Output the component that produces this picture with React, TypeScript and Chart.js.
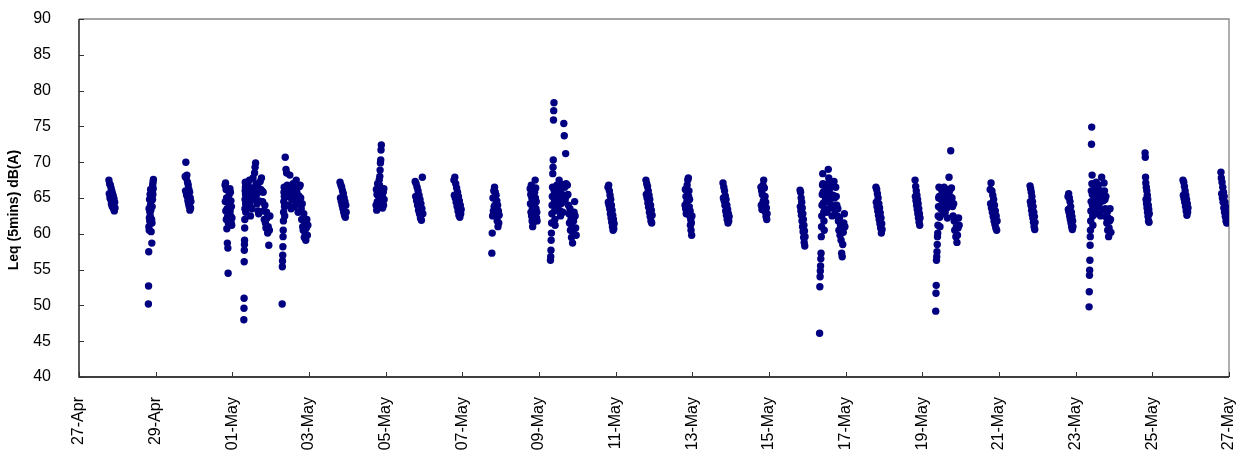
import React, { useEffect, useRef } from "react";
import { Chart, registerables } from "chart.js";

Chart.register(...registerables);

// x axis: days since 27-Apr 00:00; one label every 2 days
const tickLabels = [
  "27-Apr", "29-Apr", "01-May", "03-May", "05-May", "07-May", "09-May", "11-May",
  "13-May", "15-May", "17-May", "19-May", "21-May", "23-May", "25-May", "27-May",
];
const xStepDays = 2;
const yMin = 40;
const yMax = 90;
const yStep = 5;
const yTitle = "Leq (5mins) dB(A)";

// Leq readings (dB(A)) in time order, per measurement period
const leqApr27 = [67.5, 65.6, 67.0, 65.0, 66.8, 64.8, 66.4, 64.2, 66.0, 63.8, 65.6, 64.5, 65.3, 63.5, 64.9, 63.2, 64.4, 63.6];
const leqApr28 = [50.2, 52.7, 57.5, 61.0, 63.5, 60.5, 62.2, 64.8, 61.8, 63.0, 65.5, 62.5, 64.0, 66.2, 63.3, 65.2, 60.3, 64.6, 66.0, 62.0, 58.7, 61.5, 63.8, 65.8, 64.8, 66.8, 65.5, 67.2, 66.3, 67.6];
const leqApr29 = [68.0, 66.0, 70.0, 67.8, 65.5, 68.2, 65.2, 67.2, 64.6, 66.8, 64.2, 66.2, 63.8, 65.8, 63.3, 65.0, 63.6, 64.5];
const leqApr30 = [66.8, 64.5, 67.1, 63.2, 66.2, 62.0, 65.0, 60.7, 63.5, 58.7, 62.4, 58.0, 54.5, 61.5, 64.8, 62.8, 65.5, 61.8, 64.0, 66.3, 63.2, 65.8, 62.5, 64.6, 61.5, 63.8, 61.2, 62.2];
const leqMay01a = [48.0, 49.6, 51.0, 56.1, 57.7, 58.5, 59.1, 60.8, 62.0, 63.5, 64.8, 66.0, 67.2, 66.5, 65.5, 64.2, 63.0, 65.8, 67.0, 66.2];
const leqMay01b = [64.5, 65.8, 66.9, 63.8, 65.2, 67.5, 64.0, 62.5, 65.0, 66.4, 63.5, 64.8, 67.8, 66.0, 65.3, 68.5, 69.3, 69.9, 67.0, 65.5, 64.2, 66.5, 63.2, 62.8, 64.6, 65.9, 67.3, 66.2];
const leqMay01c = [67.8, 66.0, 64.5, 65.8, 63.2, 62.0, 64.0, 61.5, 60.8, 63.0, 62.2, 60.1, 61.0, 58.4, 60.5, 62.5];
const leqMay02a = [50.2, 55.4, 56.2, 57.0, 58.2, 59.6, 60.5, 61.8, 63.0, 64.5, 65.8, 66.5, 65.2, 63.8, 62.5, 64.0, 65.5, 70.7];
const leqMay02b = [69.0, 68.5, 66.8, 65.2, 64.0, 66.0, 68.2, 65.5, 63.5, 64.8, 66.5, 67.0, 65.0, 63.8, 64.6, 66.2, 67.5, 65.8, 64.2, 63.0, 65.3, 66.6];
const leqMay02c = [66.8, 65.0, 63.5, 62.0, 64.2, 61.0, 60.5, 62.8, 59.5, 61.5, 60.0, 59.1, 60.8, 62.0, 59.8, 61.2];
const leqMay03 = [67.2, 65.0, 66.8, 64.5, 66.5, 64.0, 66.0, 63.5, 65.6, 63.0, 65.0, 62.6, 64.5, 62.3, 64.0, 63.0];
const leqMay04 = [64.0, 66.2, 63.3, 65.5, 64.5, 67.0, 65.8, 63.8, 66.5, 65.2, 67.5, 66.8, 68.0, 68.9, 69.9, 70.3, 71.7, 72.4, 66.0, 64.2, 65.4, 63.6, 64.6, 65.8, 64.0, 66.3, 64.8];
const leqMay05 = [67.3, 65.2, 67.0, 64.6, 66.5, 64.0, 66.0, 63.3, 65.4, 62.8, 64.8, 62.2, 64.2, 61.9, 63.5, 67.9, 62.8];
const leqMay06 = [67.5, 65.4, 67.9, 65.0, 67.0, 64.4, 66.4, 63.8, 65.8, 63.2, 65.2, 62.6, 64.6, 62.3, 64.0, 62.8, 63.4];
const leqMay07 = [57.3, 60.1, 62.5, 65.0, 63.2, 66.0, 63.8, 66.5, 64.0, 65.8, 62.8, 65.4, 62.4, 64.6, 61.8, 64.0, 61.0, 63.2, 61.5, 62.6];
const leqMay08 = [66.3, 64.2, 65.5, 63.0, 66.8, 62.5, 65.0, 61.8, 63.6, 61.0, 62.8, 61.5, 63.2, 62.0, 64.5, 63.0, 65.8, 64.2, 67.5, 65.0, 66.4, 63.5, 64.5, 62.2, 63.0, 61.8];
const leqMay09a = [56.3, 56.8, 57.7, 59.1, 60.1, 61.5, 62.8, 64.0, 65.2, 66.5, 68.4, 69.3, 70.3, 75.9, 77.2, 78.3, 66.0, 64.5, 63.2, 62.0, 61.2];
const leqMay09b = [64.0, 65.5, 66.8, 65.0, 63.5, 64.8, 66.2, 67.5, 65.8, 63.2, 62.5, 64.2, 65.6, 66.9, 64.4, 63.0, 65.1, 75.4, 73.7, 66.5, 64.8, 71.2, 67.0, 65.3];
const leqMay09c = [66.8, 65.5, 64.0, 62.8, 61.5, 63.5, 60.5, 62.0, 59.5, 61.0, 58.7, 60.2, 61.8, 63.0, 64.5, 62.5, 60.8, 59.8];
const leqMay10 = [66.5, 64.4, 66.8, 64.0, 66.0, 63.5, 65.4, 62.8, 64.8, 62.2, 64.0, 61.6, 63.3, 61.0, 62.6, 60.5, 62.0, 60.7, 61.4];
const leqMay11 = [67.5, 65.5, 67.0, 65.0, 66.6, 64.3, 66.0, 63.7, 65.4, 63.0, 64.8, 62.4, 64.0, 61.8, 63.3, 61.5, 62.6];
const leqMay12 = [64.0, 66.2, 63.5, 65.2, 62.8, 66.3, 64.5, 66.8, 65.0, 67.5, 66.0, 67.8, 65.2, 66.0, 63.8, 64.8, 62.5, 63.2, 61.2, 62.0, 60.5, 61.5, 59.8, 62.5];
const leqMay13 = [67.1, 65.0, 66.5, 64.6, 66.0, 64.0, 65.3, 63.2, 64.8, 62.6, 64.0, 62.0, 63.4, 61.5, 62.8, 61.8, 62.4];
const leqMay14 = [66.5, 64.0, 66.0, 63.4, 65.5, 64.2, 66.8, 64.6, 67.5, 65.2, 66.4, 63.8, 65.2, 63.0, 64.4, 62.4, 63.6, 62.0, 62.8];
const leqMay15 = [66.1, 63.8, 65.8, 63.2, 65.0, 62.6, 64.4, 61.8, 63.6, 61.0, 62.8, 60.3, 62.0, 59.5, 61.2, 58.8, 60.4, 58.3, 59.6];
const leqMay16a = [46.1, 52.6, 54.0, 54.8, 55.5, 56.5, 57.3, 59.6, 61.0, 62.5, 64.0, 65.5, 66.8, 68.4, 67.0, 65.8, 64.3, 63.0, 61.8, 60.5];
const leqMay16b = [63.5, 65.0, 66.2, 64.5, 63.0, 65.6, 67.0, 69.0, 67.8, 66.0, 64.8, 63.6, 65.2, 66.6, 64.0, 62.5, 63.8, 65.4, 66.8, 67.3, 65.0, 63.3];
const leqMay16c = [66.5, 65.2, 64.0, 62.5, 63.5, 61.8, 60.5, 62.2, 59.8, 61.2, 59.1, 57.3, 56.8, 58.5, 60.2, 61.5, 62.8, 61.0];
const leqMay17 = [66.5, 64.4, 66.2, 63.8, 65.6, 63.2, 65.0, 62.6, 64.2, 62.0, 63.6, 61.4, 62.9, 60.8, 62.2, 60.1, 61.4, 60.6];
const leqMay18 = [67.5, 65.2, 66.6, 64.6, 66.0, 64.0, 65.4, 63.4, 64.8, 62.8, 64.2, 62.2, 63.5, 61.6, 62.8, 61.2, 62.2];
const leqMay19a = [49.2, 51.7, 52.8, 56.3, 56.8, 57.5, 58.5, 59.6, 60.1, 61.2, 62.5, 63.8, 65.0, 66.5, 65.2, 63.8, 62.3, 61.0];
const leqMay19b = [63.5, 64.8, 66.0, 64.2, 62.8, 65.5, 66.5, 64.0, 63.0, 65.0, 66.2, 63.6, 62.2, 64.5, 65.8, 67.9, 66.0, 65.2, 71.6];
const leqMay19c = [66.4, 65.0, 63.8, 62.5, 64.2, 61.8, 60.5, 62.0, 59.6, 61.0, 58.8, 59.8, 60.8, 62.2, 61.2];
const leqMay20 = [66.2, 64.2, 67.1, 63.6, 66.0, 63.0, 65.4, 62.4, 64.8, 61.8, 64.0, 61.3, 63.2, 60.8, 62.5, 60.5, 61.8];
const leqMay21 = [66.7, 64.5, 66.3, 64.0, 65.8, 63.3, 65.2, 62.7, 64.5, 62.2, 63.8, 61.6, 63.0, 61.0, 62.4, 60.6, 61.6];
const leqMay22 = [65.2, 63.4, 65.6, 63.0, 65.0, 62.5, 64.5, 62.0, 63.8, 61.5, 63.0, 61.0, 62.4, 60.6, 61.8, 61.0];
const leqMay23a = [49.8, 51.9, 54.2, 54.9, 56.3, 58.4, 59.6, 60.5, 61.8, 63.2, 64.5, 66.0, 72.5, 74.9, 67.0, 68.2, 65.5, 64.0, 62.5, 61.2];
const leqMay23b = [64.8, 66.2, 63.5, 65.0, 67.2, 64.0, 62.8, 65.8, 66.8, 63.8, 65.2, 64.4, 62.5, 66.0, 67.9, 65.0, 63.3, 64.6];
const leqMay23c = [67.1, 66.0, 64.8, 63.5, 65.2, 62.3, 61.5, 63.0, 60.5, 62.2, 59.6, 60.8, 61.8, 63.5, 62.0, 60.2];
const leqMay24 = [71.3, 70.7, 67.9, 67.1, 64.8, 66.5, 64.2, 66.0, 63.6, 65.4, 63.0, 64.8, 62.4, 64.0, 61.8, 63.4, 61.6, 62.8];
const leqMay25 = [67.5, 65.4, 67.2, 64.9, 66.6, 64.4, 66.0, 63.8, 65.4, 63.2, 64.8, 62.6, 64.2, 63.0, 63.6];
const leqMay26 = [68.6, 67.8, 65.6, 67.2, 65.0, 66.5, 64.4, 65.8, 63.6, 65.2, 63.0, 64.4, 62.4, 63.8, 61.8, 63.0, 61.5, 62.4];

// measurement periods: [start day, end day, readings] (readings at regular intervals)
const periods: [number, number, number[]][] = [
  [0.78, 0.94, leqApr27],
  [1.81, 1.94, leqApr28],
  [2.77, 2.92, leqApr29],
  [3.81, 3.99, leqApr30],
  [4.30, 4.36, leqMay01a],
  [4.38, 4.74, leqMay01b],
  [4.76, 4.98, leqMay01c],
  [5.30, 5.38, leqMay02a],
  [5.40, 5.75, leqMay02b],
  [5.77, 5.97, leqMay02c],
  [6.81, 6.97, leqMay03],
  [7.75, 7.96, leqMay04],
  [8.77, 8.97, leqMay05],
  [9.78, 9.97, leqMay06],
  [10.77, 10.96, leqMay07],
  [11.77, 11.95, leqMay08],
  [12.30, 12.42, leqMay09a],
  [12.44, 12.72, leqMay09b],
  [12.74, 12.97, leqMay09c],
  [13.80, 13.96, leqMay10],
  [14.79, 14.95, leqMay11],
  [15.81, 15.99, leqMay12],
  [16.80, 16.96, leqMay13],
  [17.79, 17.95, leqMay14],
  [18.81, 18.94, leqMay15],
  [19.32, 19.44, leqMay16a],
  [19.46, 19.72, leqMay16b],
  [19.74, 19.98, leqMay16c],
  [20.79, 20.95, leqMay17],
  [21.81, 21.94, leqMay18],
  [22.35, 22.46, leqMay19a],
  [22.48, 22.74, leqMay19b],
  [22.76, 22.96, leqMay19c],
  [23.77, 23.95, leqMay20],
  [24.81, 24.94, leqMay21],
  [25.80, 25.93, leqMay22],
  [26.35, 26.45, leqMay23a],
  [26.48, 26.72, leqMay23b],
  [26.74, 26.92, leqMay23c],
  [27.81, 27.92, leqMay24],
  [28.80, 28.93, leqMay25],
  [29.79, 29.95, leqMay26],
];

const FONT = "'Liberation Sans', Arial, sans-serif";

const framePlugin = {
  id: "excelFrame",
  beforeDatasetsDraw(chart: any) {
    const { ctx, chartArea } = chart;
    const { left, top, right, bottom } = chartArea;
    const xs = chart.scales.x;
    const ys = chart.scales.y;
    ctx.save();
    // top & right frame (grey)
    ctx.lineWidth = 1.3;
    ctx.strokeStyle = "#858585";
    ctx.beginPath();
    ctx.moveTo(left, top);
    ctx.lineTo(right, top);
    ctx.lineTo(right, bottom);
    ctx.stroke();
    // axes (black)
    ctx.strokeStyle = "#000000";
    ctx.lineWidth = 1.3;
    ctx.beginPath();
    ctx.moveTo(left, top);
    ctx.lineTo(left, bottom);
    ctx.lineTo(right, bottom);
    ctx.stroke();
    // inward tick marks
    ctx.lineWidth = 1;
    ctx.strokeStyle = "#333333";
    ctx.beginPath();
    for (let i = 0; i < tickLabels.length; i++) {
      const px = Math.round(xs.getPixelForValue(i * xStepDays)) + 0.5;
      ctx.moveTo(px, bottom);
      ctx.lineTo(px, bottom - 5);
    }
    for (let v = yMin; v <= yMax; v += yStep) {
      const py = Math.round(ys.getPixelForValue(v)) + 0.5;
      ctx.moveTo(left, py);
      ctx.lineTo(left + 5, py);
    }
    ctx.stroke();
    // y axis title
    ctx.translate(14, 210);
    ctx.rotate(-Math.PI / 2);
    ctx.fillStyle = "#000000";
    ctx.font = `bold 14px ${FONT}`;
    ctx.textAlign = "center";
    ctx.textBaseline = "middle";
    ctx.fillText(yTitle, 0, 0);
    ctx.restore();
  },
};

export default function App() {
  const canvasRef = useRef<HTMLCanvasElement | null>(null);

  useEffect(() => {
    document.body.style.margin = "0";
    const points: { x: number; y: number }[] = [];
    for (const [start, end, values] of periods) {
      const n = values.length;
      values.forEach((v, i) => {
        points.push({ x: start + ((end - start) * i) / Math.max(1, n - 1), y: v });
      });
    }
    const chart = new Chart(canvasRef.current as HTMLCanvasElement, {
      type: "scatter",
      data: {
        datasets: [
          {
            label: yTitle,
            data: points,
            backgroundColor: "#000080",
            borderColor: "#000080",
            borderWidth: 0,
            pointRadius: 3.7,
            pointHoverRadius: 3.7,
          },
        ],
      },
      options: {
        animation: false,
        responsive: true,
        maintainAspectRatio: false,
        events: [],
        layout: { padding: { left: 0, top: 19, right: 18, bottom: 0 } },
        plugins: {
          legend: { display: false },
          tooltip: { enabled: false },
          title: { display: false },
        },
        scales: {
          x: {
            type: "linear",
            min: 0,
            max: xStepDays * (tickLabels.length - 1),
            grid: { display: false },
            border: { display: false },
            afterFit(scale: any) {
              scale.height = 73;
              scale.paddingLeft = 0;
              scale.paddingRight = 0;
            },
            ticks: {
              stepSize: xStepDays,
              autoSkip: false,
              minRotation: 90,
              maxRotation: 90,
              padding: 12,
              color: "#000000",
              font: { family: FONT, size: 16 },
              callback: (value: any) => tickLabels[Math.round(Number(value) / xStepDays)] ?? "",
            },
          },
          y: {
            type: "linear",
            min: yMin,
            max: yMax,
            grid: { display: false },
            border: { display: false },
            afterFit(scale: any) {
              scale.width = 79;
              scale.paddingTop = 0;
              scale.paddingBottom = 0;
            },
            ticks: {
              stepSize: yStep,
              padding: 20,
              color: "#000000",
              font: { family: FONT, size: 16 },
            },
          },
        },
      },
      plugins: [framePlugin],
    });
    return () => chart.destroy();
  }, []);

  return (
    <div style={{ position: "relative", width: "1247px", height: "450px" }}>
      <canvas ref={canvasRef} />
    </div>
  );
}
